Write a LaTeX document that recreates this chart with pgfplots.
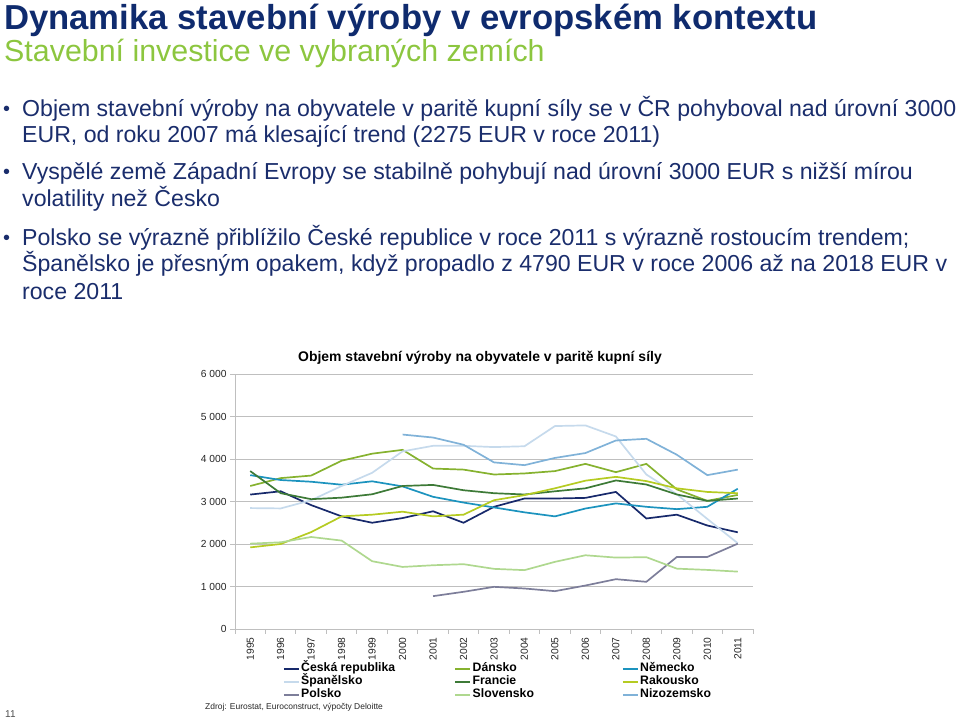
\documentclass[border=0pt]{standalone}
\usepackage{fontspec}
\setmainfont{Liberation Sans}
\usepackage{pgfplots}
\pgfplotsset{compat=1.18}

\definecolor{titleblue}{HTML}{0F2B6E}
\definecolor{textblue}{HTML}{1A2D6C}
\definecolor{subgreen}{HTML}{8CC63F}
\definecolor{axisgray}{HTML}{BFBFBF}
\definecolor{cCR}{HTML}{17296B}
\definecolor{cES}{HTML}{C6DAEC}
\definecolor{cPL}{HTML}{7D7E9A}
\definecolor{cDK}{HTML}{86B22F}
\definecolor{cFR}{HTML}{3D7A37}
\definecolor{cSK}{HTML}{AFD88F}
\definecolor{cDE}{HTML}{1C93BE}
\definecolor{cAT}{HTML}{B5CB22}
\definecolor{cNL}{HTML}{80B2D8}

\begin{document}
\begin{tikzpicture}[x=1bp,y=1bp]
\useasboundingbox (0,0) rectangle (960,722);

% slide heading
\node[anchor=base west, inner sep=0, text=titleblue, font=\fontsize{34.8}{40}\selectfont\bfseries] at (4,692) {Dynamika stavební výroby v evropském kontextu};
\node[anchor=base west, inner sep=0, text=subgreen, font=\fontsize{30.5}{35}\selectfont] at (4,660) {Stavební investice ve vybraných zemích};

% bullets
\begin{scope}[every node/.style={anchor=base west, inner sep=0, text=textblue, font=\fontsize{23.2}{27}\selectfont}]
\node[font=\fontsize{20}{24}\selectfont] at (3,606.5) {•};
\node at (22,605.5) {Objem stavební výroby na obyvatele v paritě kupní síly se v ČR pohyboval nad úrovní 3000};
\node at (22,579.5) {EUR, od roku 2007 má klesající trend (2275 EUR v roce 2011)};
\node[font=\fontsize{20}{24}\selectfont] at (3,543.5) {•};
\node at (22,542.5) {Vyspělé země Západní Evropy se stabilně pohybují nad úrovní 3000 EUR s nižší mírou};
\node at (22,515.5) {volatility než Česko};
\node[font=\fontsize{20}{24}\selectfont] at (3,477.5) {•};
\node at (22,476.5) {Polsko se výrazně přiblížilo České republice v roce 2011 s výrazně rostoucím trendem;};
\node at (22,450.5) {Španělsko je přesným opakem, když propadlo z 4790 EUR v roce 2006 až na 2018 EUR v};
\node at (22,422.5) {roce 2011};
\end{scope}

\node[anchor=base, inner sep=0, font=\fontsize{14}{16}\selectfont\bfseries] at (480,360) {Objem stavební výroby na obyvatele v paritě kupní síly};

\begin{axis}[
  at={(235bp,93bp)}, anchor=south west,
  scale only axis, width=518bp, height=255bp,
  xmin=1994.5, xmax=2011.5, ymin=0, ymax=6000,
  axis x line*=bottom, axis y line*=left,
  axis line style={-, draw=axisgray, line width=0.9bp},
  xtick={1995,...,2011},
  xticklabels={1995,1996,1997,1998,1999,2000,2001,2002,2003,2004,2005,2006,2007,2008,2009,2010,2011},
  xticklabel style={rotate=90, anchor=east, font=\fontsize{10.3}{12}\selectfont, text=black!85},
  major x tick style={draw=none},
  minor xtick={1994.5,1995.5,...,2011.5},
  minor x tick style={draw=axisgray, line width=0.9bp},
  minor tick length=5bp,
  major tick length=5bp,
  tick align=outside,
  ytick={0,1000,...,6000},
  yticklabels={0,1 000,2 000,3 000,4 000,5 000,6 000},
  yticklabel style={font=\fontsize{10.3}{12}\selectfont, text=black!85},
  ytick style={draw=axisgray, line width=0.9bp},
  ymajorgrids, major grid style={draw=axisgray, line width=0.9bp},
  every axis plot/.append style={line width=1.7bp, no markers},
  legend columns=3,
  legend cell align=left,
  legend style={at={(0.0927,-0.13)}, anchor=north west, draw=none, fill=none,
    font=\fontsize{12.3}{13}\selectfont\bfseries,
    row sep=0bp, column sep=0bp, inner sep=0bp,
    nodes={inner xsep=1.5bp, inner ysep=0.5bp, text height=9bp, text depth=3bp}},
  legend image code/.code={\draw[#1, line width=1.5bp] (0bp,0bp) -- (15bp,0bp);},
]
% order: row by row, three columns
\addplot[cCR] coordinates {
 (1995,3163) (1996,3240) (1997,2915) (1998,2650) (1999,2500) (2000,2610)
 (2001,2770) (2002,2500) (2003,2875) (2004,3070) (2005,3070) (2006,3085)
 (2007,3225) (2008,2600) (2009,2690) (2010,2435) (2011,2275)};
\addlegendentry{\makebox[152bp][l]{Česká republika}}
\addplot[cDK] coordinates {
 (1995,3365) (1996,3550) (1997,3610) (1998,3960) (1999,4125) (2000,4215)
 (2001,3775) (2002,3750) (2003,3635) (2004,3660) (2005,3715) (2006,3885)
 (2007,3690) (2008,3885) (2009,3285) (2010,3015) (2011,3155)};
\addlegendentry{\makebox[148bp][l]{Dánsko}}
\addplot[cDE] coordinates {
 (1995,3620) (1996,3505) (1997,3465) (1998,3395) (1999,3475) (2000,3355)
 (2001,3110) (2002,2975) (2003,2860) (2004,2745) (2005,2650) (2006,2835)
 (2007,2955) (2008,2875) (2009,2820) (2010,2875) (2011,3300)};
\addlegendentry{Německo}
\addplot[cES] coordinates {
 (1995,2845) (1996,2837) (1997,3030) (1998,3365) (1999,3675) (2000,4180)
 (2001,4310) (2002,4310) (2003,4280) (2004,4300) (2005,4775) (2006,4790)
 (2007,4530) (2008,3635) (2009,3170) (2010,2590) (2011,2018)};
\addlegendentry{\makebox[152bp][l]{Španělsko}}
\addplot[cFR] coordinates {
 (1995,3715) (1996,3195) (1997,3055) (1998,3090) (1999,3170) (2000,3365)
 (2001,3390) (2002,3265) (2003,3195) (2004,3165) (2005,3240) (2006,3310)
 (2007,3495) (2008,3400) (2009,3165) (2010,3015) (2011,3070)};
\addlegendentry{\makebox[148bp][l]{Francie}}
\addplot[cAT] coordinates {
 (1995,1920) (1996,2000) (1997,2280) (1998,2650) (1999,2690) (2000,2760)
 (2001,2650) (2002,2690) (2003,3030) (2004,3150) (2005,3310) (2006,3490)
 (2007,3580) (2008,3480) (2009,3310) (2010,3225) (2011,3195)};
\addlegendentry{Rakousko}
\addplot[cPL] coordinates {
 (2001,773) (2002,875) (2003,992) (2004,953) (2005,890) (2006,1023)
 (2007,1172) (2008,1110) (2009,1695) (2010,1695) (2011,2008)};
\addlegendentry{\makebox[152bp][l]{Polsko}}
\addplot[cSK] coordinates {
 (1995,2008) (1996,2040) (1997,2165) (1998,2080) (1999,1595) (2000,1460)
 (2001,1500) (2002,1525) (2003,1415) (2004,1385) (2005,1580) (2006,1735)
 (2007,1680) (2008,1690) (2009,1420) (2010,1390) (2011,1350)};
\addlegendentry{\makebox[148bp][l]{Slovensko}}
\addplot[cNL] coordinates {
 (2000,4575) (2001,4505) (2002,4335) (2003,3920) (2004,3855) (2005,4025)
 (2006,4140) (2007,4435) (2008,4475) (2009,4100) (2010,3620) (2011,3750)};
\addlegendentry{Nizozemsko}
\end{axis}

\node[anchor=base west, inner sep=0, font=\fontsize{8.5}{10}\selectfont, text=black!85] at (205,12) {Zdroj: Eurostat, Euroconstruct, výpočty Deloitte};
\node[anchor=base west, inner sep=0, font=\fontsize{10}{12}\selectfont, text=black!70] at (5,4) {11};
\end{tikzpicture}
\end{document}
